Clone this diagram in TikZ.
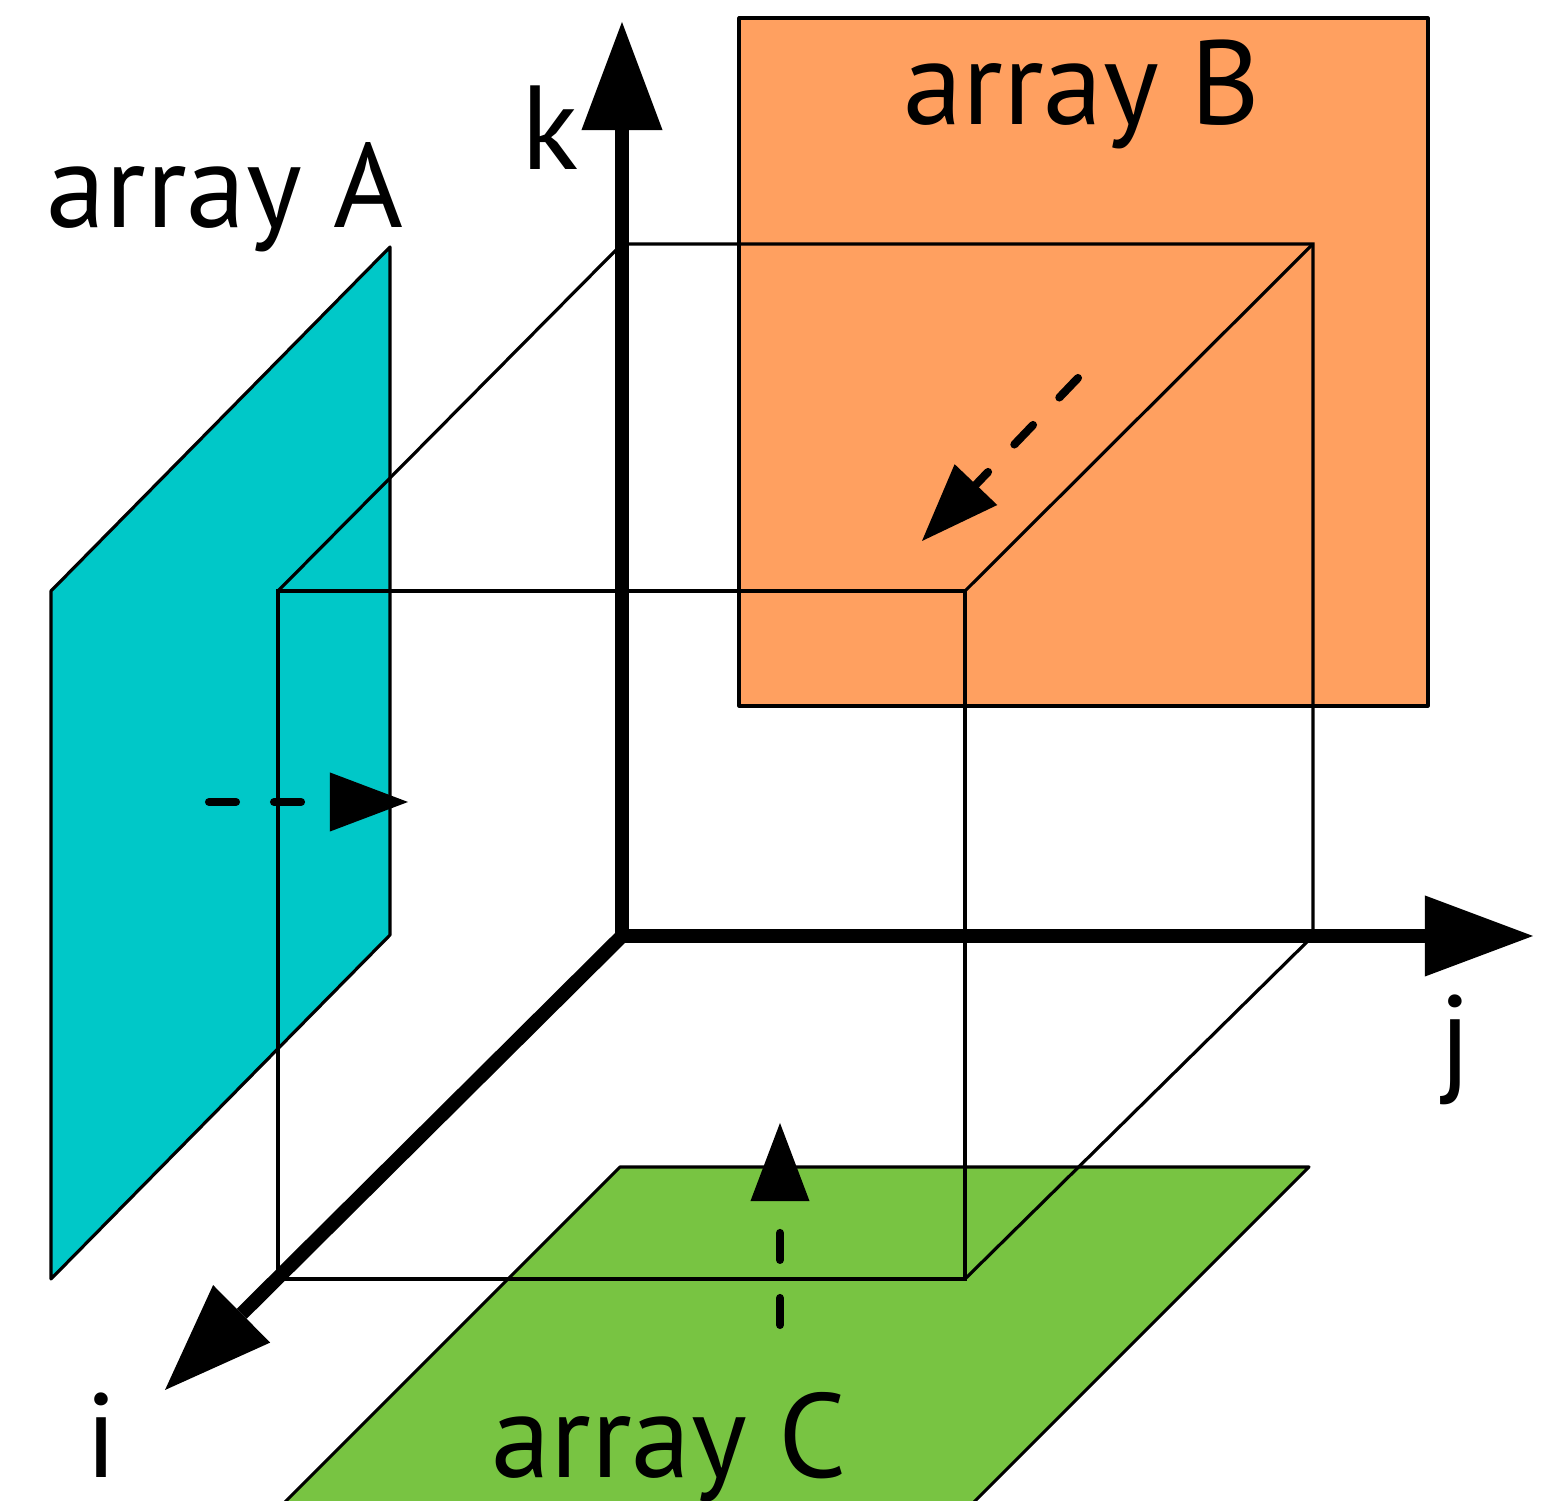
\documentclass[tikz,border=0pt]{standalone}
\usepackage{fontspec}
\setmainfont{PT Sans}
\usepackage{tikz}
\usetikzlibrary{arrows.meta}
\definecolor{Cyan}{HTML}{00C8C8}
\definecolor{Peach}{HTML}{FFA060}
\definecolor{Leaf}{HTML}{78C442}

\begin{document}
\begin{tikzpicture}[
  x=0.01cm,y=-0.01cm,
  every node/.style={font=\fontsize{34}{40}\selectfont,inner sep=0pt,anchor=base},
  plane/.style={draw=black,line width=0.9pt,line join=round},
  edge/.style={draw=black,line width=0.9pt},
  axis/.style={line width=4pt,-{Triangle[length=10.8mm,width=8.1mm,line width=0pt]}},
  flow/.style={line width=2.3pt,line cap=round,dash pattern=on 2.7mm off 3.8mm,
    -{Triangle[length=7.8mm,width=5.9mm,line width=0pt]}}
]
\useasboundingbox (0,0) rectangle (1553,1501);
\coordinate (O) at (622,936);
\coordinate (kend) at (622,22);
\coordinate (jend) at (1533,936);
\coordinate (iend) at (165,1390);
\coordinate (bTL) at (622,244);
\coordinate (bTR) at (1313,244);
\coordinate (bBR) at (1313,936);
\coordinate (fTL) at (278,591);
\coordinate (fTR) at (965,591);
\coordinate (fBR) at (965,1279);
\coordinate (fBL) at (278,1279);

\fill[Cyan,plane] (51,591) -- (390,247) -- (390,935) -- (51,1279) -- cycle;
\fill[Peach,plane] (739,18) rectangle (1428,706);
\fill[Leaf,plane] (620,1167) -- (1309,1167) -- (964,1512) -- (275,1512) -- cycle;

\draw[edge] (fTL) -- (bTL) -- (bTR) -- (bBR);
\draw[edge] (fTL) -- (fTR) -- (fBR) -- (fBL) -- cycle;
\draw[edge] (fTR) -- (bTR);
\draw[edge] (fBR) -- (bBR);

\draw[axis] (O) -- (kend);
\draw[axis] (O) -- (jend);
\draw[axis] (O) -- (iend);

\coordinate (aS) at (209,802);
\coordinate (aE) at (408,802);
\coordinate (bS) at (1078,378);
\coordinate (bE) at (922,541);
\coordinate (cS) at (780,1325);
\coordinate (cE) at (780,1123);
\draw[flow] (aS) -- (aE);
\draw[flow] (bS) -- (bE);
\draw[flow] (cS) -- (cE);

\node (labA) at (225,228) {array A};
\node (labB) at (1082,125) {array B};
\node[text depth=0pt] (labC) at (669,1478) {array C};
\node (labk) at (550,170) {k};
\node (labj) at (1455,1080) {j};
\node[text depth=0pt] (labi) at (102,1478) {i};
\end{tikzpicture}
\end{document}
